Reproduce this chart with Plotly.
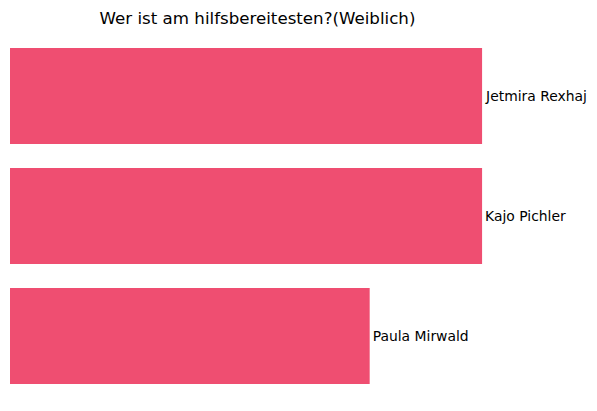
import plotly.graph_objects as go

names = ["Jetmira Rexhaj", "Kajo Pichler", "Paula Mirwald"]
votes = [21, 21, 16]

bar_color = "#EF4E71"

fig = go.Figure(
    go.Bar(
        x=votes,
        y=names,
        orientation="h",
        text=names,
        textposition="outside",
        textfont=dict(family="DejaVu Sans", size=13.9, color="#000000"),
        constraintext="none",
        cliponaxis=False,
        marker=dict(color=bar_color, line=dict(width=0)),
        hoverinfo="x+y",
    )
)

W, H = 589, 403
fig.update_layout(
    width=W,
    height=H,
    margin=dict(l=2, r=25, t=28, b=15),
    paper_bgcolor="white",
    plot_bgcolor="white",
    bargap=0.2,
    showlegend=False,
    title=dict(
        text="Wer ist am hilfsbereitesten?(Weiblich)",
        font=dict(family="DejaVu Sans", size=16.67, color="#000000"),
        x=249.5 / W,
        xref="container",
        xanchor="center",
        y=1 - 10 / H,
        yref="container",
        yanchor="middle",
    ),
    font=dict(family="DejaVu Sans"),
    xaxis=dict(range=[0, 25], visible=False, showgrid=False, zeroline=False),
    yaxis=dict(autorange="reversed", visible=False, showgrid=False, zeroline=False),
)

fig.write_html("out.html")
